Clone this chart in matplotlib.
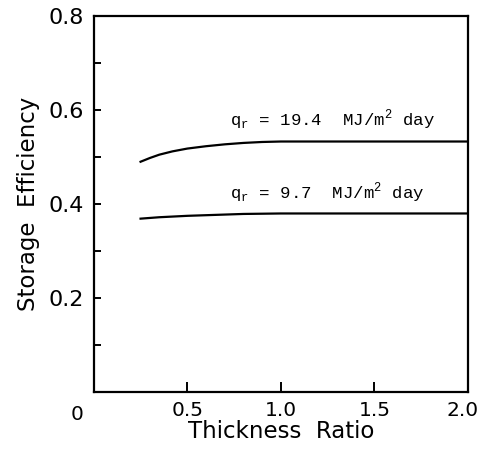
import numpy as np
import matplotlib
matplotlib.use('Agg')
import matplotlib.pyplot as plt
import matplotlib.transforms as mtransforms
from matplotlib.ticker import MultipleLocator

# curves
ratio_hi = [0.25, 0.30, 0.35, 0.42, 0.50, 0.60, 0.70, 0.80, 0.90, 1.00, 1.20, 1.50, 2.00]
eff_hi = [0.490, 0.498, 0.505, 0.512, 0.518, 0.523, 0.527, 0.530, 0.532, 0.533, 0.533, 0.533, 0.533]

ratio_lo = [0.25, 0.35, 0.50, 0.65, 0.80, 1.00, 1.50, 2.00]
eff_lo = [0.369, 0.372, 0.375, 0.377, 0.379, 0.380, 0.380, 0.380]

labels = [r'q$_\mathregular{r}$ = 19.4  MJ/m$^\mathregular{2}$ day',
          r'q$_\mathregular{r}$ = 9.7  MJ/m$^\mathregular{2}$ day']
label_pos = [(0.73, 0.566), (0.73, 0.412)]

xticks = [0.5, 1.0, 1.5, 2.0]
yticks = [0.2, 0.4, 0.6, 0.8]

fig = plt.figure(figsize=(4.81, 4.55), dpi=100)
ax = fig.add_axes([0.195, 0.138, 0.778, 0.827])

ax.plot(ratio_hi, eff_hi, color='black', linewidth=1.6)
ax.plot(ratio_lo, eff_lo, color='black', linewidth=1.6)

for txt, (x, y) in zip(labels, label_pos):
    ax.text(x, y, txt, fontsize=12.5, family='Liberation Mono', ha='left', va='baseline')

ax.set_xlim(0, 2.0)
ax.set_ylim(0, 0.8)
ax.set_xticks(xticks)
ax.set_xticklabels([f'{v:.1f}' for v in xticks])
ax.set_yticks(yticks)
ax.set_yticklabels([f'{v:.1f}' for v in yticks])
ax.yaxis.set_minor_locator(MultipleLocator(0.1))

ax.tick_params(axis='both', which='both', direction='in', width=1.4)
ax.tick_params(axis='x', which='major', length=7, pad=6, labelsize=14.5)
ax.tick_params(axis='y', which='both', length=5, pad=7, labelsize=16)
for s in ax.spines.values():
    s.set_linewidth(1.6)

# keep the last x label inside the figure
last = ax.get_xticklabels()[-1]
last.set_transform(last.get_transform() + mtransforms.ScaledTranslation(-5 / 100, 0, fig.dpi_scale_trans))

# origin label
ax.text(-0.09, -0.028, '0', transform=ax.transData, fontsize=14.5, ha='center', va='top')

ax.set_xlabel('Thickness  Ratio', fontsize=16.5, labelpad=0)
ax.set_ylabel('Storage  Efficiency', fontsize=16.5, labelpad=6)

plt.savefig('out.png', dpi=100)
